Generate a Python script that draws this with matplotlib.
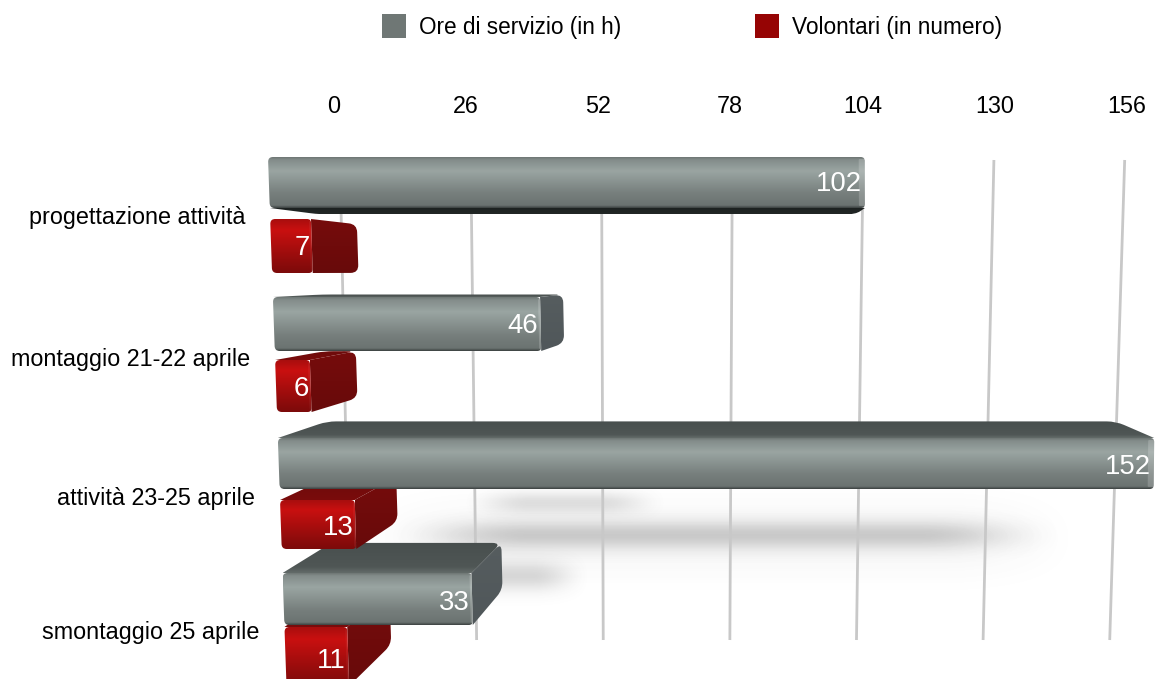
import numpy as np
import matplotlib
matplotlib.use('Agg')
import matplotlib.pyplot as plt
from matplotlib.colors import LinearSegmentedColormap
from matplotlib.patches import Patch, PathPatch
from matplotlib.path import Path

plt.rcParams['font.family'] = ['Liberation Sans', 'DejaVu Sans']

categories = ['progettazione attività', 'montaggio 21-22 aprile', 'attività 23-25 aprile', 'smontaggio 25 aprile']
ore = [102, 46, 152, 33]
volontari = [7, 6, 13, 11]
ticks = [0, 26, 52, 78, 104, 130, 156]
legend_labels = ['Ore di servizio (in h)', 'Volontari (in numero)']

# front face top/bottom of each row, in image pixels
grey_rows = [(157, 208), (297, 351), (438, 489), (573, 625)]
red_rows = [(219, 273), (360, 412), (500, 549), (627, 686)]
label_y = [216, 358, 497, 631]

# vanishing point and depth of the 3d boxes
vx, vy, s = 770, 272, 0.9
tick_x0, tick_k = 334, 5.08


def to_x(px):
    return (np.asarray(px, dtype=float) - tick_x0) / tick_k


def front(v, y):
    return 268 + 5.85 * v + (y - 157) * (0.035 - 0.0003 * v)


def back(p):
    return (vx + (p[0] - vx) * s, vy + (p[1] - vy) * s)


def grid_x(v, y):
    t = (y - 160) / 480
    return (340 + 5.03 * v) * (1 - t) + (350 + 4.87 * v) * t


def rounded(points, radii):
    verts, codes = [], []
    n = len(points)
    for i in range(n):
        p = np.array(points[i], dtype=float)
        a = np.array(points[i - 1], dtype=float)
        b = np.array(points[(i + 1) % n], dtype=float)
        ra = min(radii[i], np.linalg.norm(a - p) / 2)
        rb = min(radii[i], np.linalg.norm(b - p) / 2)
        p0 = p + (a - p) / np.linalg.norm(a - p) * ra
        p1 = p + (b - p) / np.linalg.norm(b - p) * rb
        verts.append(p0)
        codes.append(Path.MOVETO if i == 0 else Path.LINETO)
        verts += [p, p1]
        codes += [Path.CURVE3, Path.CURVE3]
    verts.append(verts[0])
    codes.append(Path.CLOSEPOLY)
    verts = np.array(verts)
    verts[:, 0] = to_x(verts[:, 0])
    return Path(verts, codes)


def face(points, stops, radii, z):
    path = rounded(points, radii)
    patch = PathPatch(path, facecolor='none', edgecolor='none', zorder=z)
    ax.add_patch(patch)
    cmap = LinearSegmentedColormap.from_list('f', stops)
    ys = [p[1] for p in points]
    xs = to_x([p[0] for p in points])
    im = ax.imshow(np.linspace(0, 1, 128).reshape(-1, 1), cmap=cmap, aspect='auto', interpolation='bilinear',
                   extent=(xs.min(), xs.max(), max(ys), min(ys)), zorder=z)
    im.set_clip_path(patch)


def box(v, top, bot, front_stops, top_col, side_col, bottom_col, bevel_alpha, z):
    tl, tr = (front(0, top), top), (front(v, top), top)
    bl, br = (front(0, bot), bot), (front(v, bot), bot)
    if top > vy:
        face([tl, tr, back(tr), back(tl)], top_col, [0, 0, 9, 9], z)
    if bot < vy:
        face([bl, br, back(br), back(bl)], bottom_col, [0, 0, 9, 9], z)
    if tr[0] < vx:
        face([tr, back(tr), back(br), br], side_col, [0, 8, 8, 0], z)
    face([tl, tr, br, bl], front_stops, [5, 4, 4, 5], z + 0.1)
    # thin bright bevel on the end of the bar
    w = 6 if tr[0] > vx else 2
    bevel = rounded([(tr[0] - w, top + 2), (tr[0], top + 2), (br[0], bot - 2), (br[0] - w, bot - 2)], [1, 1, 1, 1])
    ax.add_patch(PathPatch(bevel, facecolor='white', edgecolor='none', alpha=bevel_alpha, zorder=z + 0.2))


def value_label(v, top, bot, z):
    y = (top + bot) / 2
    ax.text(to_x(front(v, bot) - 3), y + 1 + (y - 157) * 0.007, str(v), color='white', fontsize=19.8,
            ha='right', va='center', zorder=z)


def shadow(x0, x1, yc, sy, strength, fade):
    xs = np.linspace(x0, x1, 300)
    ys = np.linspace(yc - 4 * sy, yc + 4 * sy, 80)
    fx = np.clip((xs - x0) / fade, 0, 1) * np.clip((x1 - xs) / fade, 0, 1)
    fx = fx * fx * (3 - 2 * fx)
    fy = np.exp(-((ys - yc) / sy) ** 2)
    rgba = np.zeros((80, 300, 4))
    rgba[..., :3] = 0.33
    rgba[..., 3] = strength * np.outer(fy, fx)
    ax.imshow(rgba, aspect='auto', interpolation='bilinear', zorder=1,
              extent=(to_x(xs[0]), to_x(xs[-1]), ys[-1], ys[0]))


fig = plt.figure(figsize=(11.55, 6.79), dpi=100)
ax = fig.add_axes([0, 0, 1, (679 - 118) / 679])

grey_front = [(0, '#6f7775'), (0.05, '#838c8a'), (0.27, '#9aa5a2'), (0.72, '#767e7c'), (0.95, '#6b7371'), (1, '#3c4241')]
grey_top = [(0, '#484f4e'), (0.8, '#4f5655'), (1, '#636b69')]
grey_side = [(0, '#565d5f'), (1, '#50575a')]
grey_bottom = [(0, '#1c2120'), (1, '#222726')]
red_front = [(0, '#a80e0e'), (0.2, '#c91010'), (0.75, '#930c0c'), (1, '#7c0a0a')]
red_top = [(0, '#6c0b0b'), (1, '#7a0c0c')]
red_side = [(0, '#760c0c'), (1, '#680a0a')]

# soft shadows on the floor, under the longest bars
shadow(front(0, 535) + 100, front(ore[2], 535) - 85, 535, 14, 0.27, 150)
shadow(front(0, 535) + 60, front(ore[2], 535) - 60, 538, 32, 0.06, 150)
shadow(front(0, 503) + 180, front(ore[1], 503) + 125, 503, 11, 0.18, 70)
shadow(front(0, 575) + 150, front(ore[3], 575) + 120, 576, 15, 0.22, 60)

for v in ticks:
    ax.plot(to_x([grid_x(v, 160), grid_x(v, 640)]), [160, 640], color='#c8c8c8', lw=2, zorder=2,
            solid_capstyle='butt')

# lower rows go first, the upper boxes sit in front of them
for i in reversed(range(len(categories))):
    z = 10 + 2 * (len(categories) - i)
    top, bot = red_rows[i]
    box(volontari[i], top, bot, red_front, red_top, red_side, red_side, 0.05, z)
    value_label(volontari[i], top, bot, z + 0.5)
    top, bot = grey_rows[i]
    box(ore[i], top, bot, grey_front, grey_top, grey_side, grey_bottom, 0.18, z + 1)
    value_label(ore[i], top, bot, z + 1.5)
    ax.text(to_x(front(0, label_y[i]) - 25), label_y[i] + 1, categories[i], color='black', fontsize=16.8,
            ha='right', va='center', zorder=30)

ax.set_xlim(to_x(0), to_x(1155))
ax.set_ylim(679, 118)
ax.xaxis.tick_top()
ax.set_xticks(ticks)
ax.set_xticklabels([str(t) for t in ticks], fontsize=16.8)
ax.tick_params(axis='x', length=0, pad=0)
ax.set_yticks([])
for sp in ax.spines.values():
    sp.set_visible(False)

handles = [Patch(facecolor='#6f7775', edgecolor='none'), Patch(facecolor='#960404', edgecolor='none')]
fig.legend(handles, legend_labels, loc='upper left', bbox_to_anchor=(382 / 1155, 1 - 14 / 679), ncol=2, frameon=False,
           fontsize=16.3, borderpad=0, borderaxespad=0, handlelength=1.06, handleheight=1.25, handletextpad=0.57,
           columnspacing=5.93)

fig.savefig('out.png', dpi=100)
